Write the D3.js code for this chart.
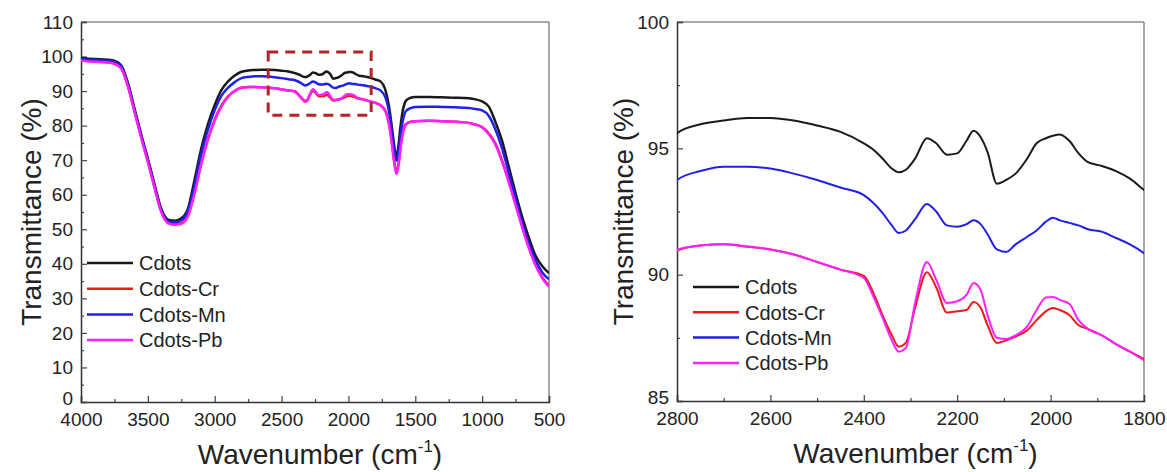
<!DOCTYPE html>
<html>
<head>
<meta charset="utf-8">
<script src="https://cdn.jsdelivr.net/npm/d3@7"></script>
<style>
  body { margin: 0; background: #fff; }
  svg text { font-family: "Liberation Sans", Arial, sans-serif; fill: #222; }
</style>
</head>
<body>
<div id="viz"></div>
<script>
// wavenumber grid (cm-1), denser inside the zoomed 2800-1800 window
const wavenumber = [4000, 3900, 3800, 3750, 3700, 3650, 3600, 3550, 3500, 3450,
  3400, 3350, 3300, 3250, 3200, 3150, 3100, 3050, 3000, 2950,
  2900, 2850, 2800, 2750, 2700, 2650, 2600, 2550, 2500, 2450,
  2400, 2380, 2360, 2340, 2325, 2310, 2290, 2265, 2245, 2222,
  2200, 2180, 2165, 2150, 2135, 2115, 2095, 2075, 2050, 2030,
  2010, 1995, 1980, 1960, 1940, 1920, 1890, 1860, 1830, 1800,
  1760, 1720, 1690, 1670, 1655, 1640, 1625, 1610, 1590, 1570,
  1540, 1500, 1400, 1300, 1200, 1100, 1050, 1000, 950, 900,
  850, 800, 750, 700, 650, 600, 550, 500];

const cdots = [99.6, 99.3, 99.1, 98.8, 97.5, 92.5, 85.0, 77.5, 70.5, 63.0,
  56.0, 52.8, 52.5, 53.2, 56.0, 64.5, 73.5, 80.5, 86.0, 90.3,
  92.8, 94.5, 95.6, 95.95, 96.1, 96.2, 96.2, 96.1, 95.9, 95.65,
  95.2, 94.95, 94.6, 94.2, 94.05, 94.15, 94.6, 95.4, 95.2, 94.75,
  94.8, 95.3, 95.7, 95.45, 94.85, 93.6, 93.75, 94.0, 94.6, 95.2,
  95.4, 95.5, 95.55, 95.3, 94.8, 94.45, 94.3, 94.1, 93.8, 93.35,
  92.8, 89.8, 84.0, 78.0, 73.5, 70.8, 74.5, 80.0, 85.0, 87.2,
  88.0, 88.3, 88.3, 88.2, 88.1, 87.9, 87.6, 87.0, 85.5, 81.0,
  75.5, 68.0, 60.5, 53.5, 47.5, 42.3, 39.3, 37.3];

const cdotsCr = [98.9, 98.6, 98.3, 97.9, 96.7, 91.6, 84.2, 76.7, 69.7, 62.2,
  55.2, 52.0, 51.5, 51.8, 54.0, 60.8, 69.3, 76.3, 81.8, 85.8,
  88.5, 90.1, 90.95, 91.15, 91.2, 91.1, 91.0, 90.8, 90.5, 90.2,
  89.95, 89.3, 88.4, 87.6, 87.15, 87.3, 88.7, 90.1, 89.5, 88.5,
  88.55, 88.6, 88.92, 88.7, 88.0, 87.3, 87.4, 87.55, 87.8, 88.2,
  88.55, 88.68, 88.6, 88.4, 88.0, 87.85, 87.6, 87.25, 86.95, 86.65,
  85.9, 84.0, 79.2, 73.5, 69.0, 66.6, 69.0, 74.0, 78.6, 80.5,
  81.1, 81.3, 81.4, 81.3, 81.1, 80.8, 80.3, 79.6, 77.7, 74.8,
  69.8, 63.8, 57.3, 50.8, 44.8, 39.8, 36.1, 33.6];

const cdotsMn = [99.3, 99.0, 98.8, 98.5, 97.2, 92.0, 84.5, 77.0, 70.0, 62.5,
  55.5, 52.3, 52.0, 52.6, 55.2, 63.0, 72.0, 79.0, 84.5, 88.6,
  91.0, 92.6, 93.75, 94.1, 94.27, 94.27, 94.2, 94.0, 93.75, 93.45,
  93.15, 92.85, 92.45, 91.95, 91.65, 91.75, 92.2, 92.8, 92.5, 91.95,
  91.9, 92.0, 92.15, 92.0, 91.6, 91.0, 90.9, 91.2, 91.5, 91.75,
  92.1, 92.25, 92.15, 92.05, 91.95, 91.8, 91.7, 91.45, 91.2, 90.85,
  90.2, 87.8, 82.5, 76.5, 72.0, 69.8, 72.5, 77.5, 82.0, 84.2,
  85.0, 85.4, 85.5, 85.4, 85.3, 85.1, 84.8, 84.4, 82.8, 78.8,
  73.3, 66.2, 59.0, 52.0, 46.0, 41.0, 37.5, 35.5];

const cdotsPb = [98.8, 98.5, 98.3, 97.9, 96.6, 91.5, 84.0, 76.5, 69.5, 62.0,
  55.0, 51.8, 51.3, 51.6, 53.8, 60.5, 69.0, 76.0, 81.5, 85.6,
  88.3, 90.0, 90.98, 91.15, 91.2, 91.12, 91.0, 90.8, 90.5, 90.2,
  89.87, 89.15, 88.3, 87.4, 86.95, 87.1, 88.9, 90.5, 89.8, 88.88,
  88.95, 89.2, 89.67, 89.4, 88.4, 87.5, 87.45, 87.6, 87.95, 88.6,
  89.1, 89.12, 89.0, 88.85, 88.2, 87.85, 87.6, 87.25, 86.95, 86.6,
  85.8, 83.8, 78.8, 73.0, 68.5, 66.0, 68.5, 73.5, 78.3, 80.3,
  81.0, 81.3, 81.4, 81.3, 81.1, 80.8, 80.3, 79.5, 77.5, 74.5,
  69.5, 63.5, 57.0, 50.5, 44.5, 39.5, 35.8, 33.3];

const seriesNames = ["Cdots", "Cdots-Cr", "Cdots-Mn", "Cdots-Pb"];

const leftXTicks = [4000, 3500, 3000, 2500, 2000, 1500, 1000, 500];
const leftYTicks = [0, 10, 20, 30, 40, 50, 60, 70, 80, 90, 100, 110];
const rightXTicks = [2800, 2600, 2400, 2200, 2000, 1800];
const rightYTicks = [85, 90, 95, 100];

// dashed box marking the zoomed region on the full spectrum
const zoomBoxX = [2600, 1830];
const zoomBoxY = [83, 101.3];

const colors = ["#1a1a1a", "#f01818", "#2020e8", "#ff20ff"];
const allSeries = [cdots, cdotsCr, cdotsMn, cdotsPb].map((vals, i) => ({
  name: seriesNames[i],
  color: colors[i],
  points: wavenumber.map((w, j) => [w, vals[j]])
}));

const width = 1167;
const height = 472;

const svg = d3.select('#viz')
  .append('svg')
    .attr('width', width)
    .attr('height', height);

function midpoints(ticks) {
  return d3.pairs(ticks).map(([a, b]) => (a + b) / 2);
}

function drawPanel(opt) {
  const x = d3.scaleLinear().domain(opt.xDomain).range([opt.left, opt.right]);
  const y = d3.scaleLinear().domain(opt.yDomain).range([opt.bottom, opt.top]);
  const g = svg.append('g');

  const clipId = 'clip' + opt.id;
  g.append('clipPath').attr('id', clipId)
    .append('rect')
      .attr('x', opt.left).attr('y', opt.top)
      .attr('width', opt.right - opt.left).attr('height', opt.bottom - opt.top);

  // frame: top/right in grey, left/bottom darker
  g.append('line').attr('x1', opt.left).attr('x2', opt.right).attr('y1', opt.top).attr('y2', opt.top)
    .attr('stroke', '#8a8a8a').attr('stroke-width', 1.5);
  g.append('line').attr('x1', opt.right).attr('x2', opt.right).attr('y1', opt.top).attr('y2', opt.bottom)
    .attr('stroke', '#8a8a8a').attr('stroke-width', 1.5);

  // ticks pointing inward
  const xAxis = g.append('g')
    .attr('transform', `translate(0,${opt.bottom})`)
    .call(d3.axisBottom(x).tickValues(opt.xTicks).tickSize(-6).tickPadding(11).tickFormat(d3.format('d')));
  g.append('g')
    .attr('transform', `translate(0,${opt.bottom})`)
    .call(d3.axisBottom(x).tickValues(midpoints(opt.xTicks)).tickSize(-3).tickFormat(''))
    .call(a => a.select('.domain').remove());
  const yAxis = g.append('g')
    .attr('transform', `translate(${opt.left},0)`)
    .call(d3.axisLeft(y).tickValues(opt.yTicks).tickSize(-6).tickPadding(8).tickFormat(d3.format('d')));
  g.append('g')
    .attr('transform', `translate(${opt.left},0)`)
    .call(d3.axisLeft(y).tickValues(midpoints(opt.yTicks)).tickSize(-3).tickFormat(''))
    .call(a => a.select('.domain').remove());

  g.selectAll('.domain').attr('stroke', '#333').attr('stroke-width', 1.5);
  g.selectAll('.tick line').attr('stroke', '#444').attr('stroke-width', 1.2);
  [xAxis, yAxis].forEach(a => a.attr('font-size', 19).attr('font-family', null)
    .selectAll('text').attr('fill', '#222'));
  // the lowest y label sits just above the first x label, as in the source
  yAxis.selectAll('.tick text').filter(d => d === opt.yDomain[0]).attr('dy', '0.12em');

  const line = d3.line()
    .x(d => x(d[0]))
    .y(d => y(d[1]))
    .curve(d3.curveMonotoneX);

  const lines = g.append('g').attr('clip-path', `url(#${clipId})`);
  lines.selectAll('path')
    .data(allSeries)
    .join('path')
      .attr('d', d => line(d.points))
      .attr('fill', 'none')
      .attr('stroke', d => d.color)
      .attr('stroke-width', opt.lineWidth)
      .attr('stroke-linejoin', 'round');

  // axis titles
  g.append('text')
    .attr('transform', `translate(${opt.left - opt.yTitleOffset},${(opt.top + opt.bottom) / 2}) rotate(-90)`)
    .attr('text-anchor', 'middle')
    .attr('font-size', 28)
    .text('Transmittance (%)');

  const xt = g.append('text')
    .attr('x', (opt.left + opt.right) / 2 + 5)
    .attr('y', opt.bottom + 62)
    .attr('text-anchor', 'middle')
    .attr('font-size', 28);
  xt.append('tspan').text('Wavenumber (cm');
  xt.append('tspan').attr('font-size', 17).attr('dy', -12).text('-1');
  xt.append('tspan').attr('dy', 12).text(')');

  // legend
  const leg = g.append('g');
  allSeries.forEach((s, i) => {
    const ly = opt.legendY + i * opt.legendStep;
    leg.append('line')
      .attr('x1', opt.legendX).attr('x2', opt.legendX + 46)
      .attr('y1', ly).attr('y2', ly)
      .attr('stroke', s.color).attr('stroke-width', 2.5);
    leg.append('text')
      .attr('x', opt.legendX + 52).attr('y', ly)
      .attr('dy', '0.36em')
      .attr('font-size', 20)
      .text(s.name);
  });

  return { x, y, g };
}

const leftPanel = drawPanel({
  id: 'L', left: 81, right: 549, top: 22, bottom: 402,
  xDomain: [4000, 500], yDomain: [0, 110],
  xTicks: leftXTicks, yTicks: leftYTicks,
  lineWidth: 2.5, yTitleOffset: 40,
  legendX: 87, legendY: 263, legendStep: 25.7
});

drawPanel({
  id: 'R', left: 677, right: 1144, top: 22, bottom: 401,
  xDomain: [2800, 1800], yDomain: [85, 100],
  xTicks: rightXTicks, yTicks: rightYTicks,
  lineWidth: 2, yTitleOffset: 44,
  legendX: 693, legendY: 287, legendStep: 25.3
});

// dashed box on the full spectrum
leftPanel.g.append('rect')
  .attr('x', leftPanel.x(zoomBoxX[0]))
  .attr('y', leftPanel.y(zoomBoxY[1]))
  .attr('width', leftPanel.x(zoomBoxX[1]) - leftPanel.x(zoomBoxX[0]))
  .attr('height', leftPanel.y(zoomBoxY[0]) - leftPanel.y(zoomBoxY[1]))
  .attr('fill', 'none')
  .attr('stroke', '#b52424')
  .attr('stroke-width', 3)
  .attr('stroke-dasharray', '10,7');
</script>
</body>
</html>
